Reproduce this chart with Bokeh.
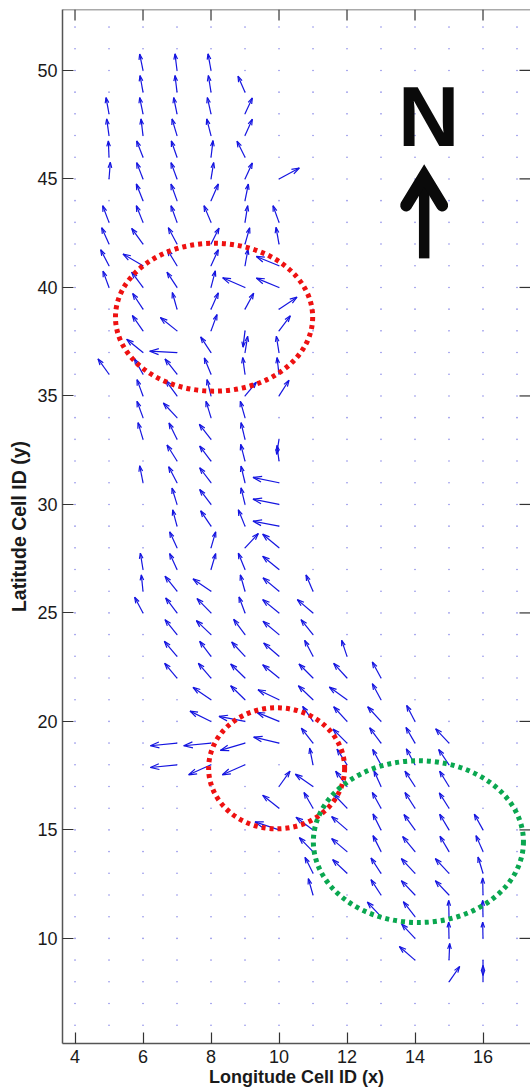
from bokeh.embed import file_html
from bokeh.resources import INLINE
from bokeh.plotting import figure
from bokeh.models import FixedTicker, Range1d
from bokeh.core.properties import value

# quiver field, one set of lists per longitude column: row y and raw components u, v
y_x5 = [48,47,46,45,43,42,41,40,36]
u_x5 = [-9,-7,-2,4,-19,-22,-25,-18,-33]
v_x5 = [49,50,49,50,50,49,48,49,46]

y_x6 = [50,49,48,47,46,45,44,43,42,41,40,39,38,37,36,35,34,33,31,27,26,25]
u_x6 = [-10,-9,-10,-6,-19,-19,-20,-20,-34,-60,-34,-31,-32,-49,-26,-18,-18,-15,-10,-8,-5,-25]
v_x6 = [49,50,49,50,49,49,50,50,47,35,46,47,46,40,47,49,49,50,51,49,49,47]

y_x7 = [50,49,48,47,46,45,44,43,42,41,40,39,38,37,36,35,34,33,32,31,30,29,28,27,26,25,24,23,22,19,18]
u_x7 = [-6,-6,-10,-15,-17,-18,-18,-18,-26,-29,-30,-14,-50,-82,-36,-34,-41,-24,-30,-25,-15,-13,-22,-22,-36,-34,-36,-38,-37,-80,-80]
v_x7 = [50,50,49,50,49,49,50,50,49,48,46,50,40,4,46,47,44,49,48,48,49,49,48,48,45,45,45,45,44,-8,-8]

y_x8 = [50,49,48,47,46,45,44,43,42,41,40,39,38,37,36,35,34,33,32,31,30,29,28,27,26,25,24,23,22,21,20,19,18]
u_x8 = [-9,-8,-11,-13,6,8,22,-21,24,22,13,22,18,-31,-20,-12,-15,-35,-34,-34,-34,-31,14,14,-54,-42,-44,-34,-38,-54,-63,-82,-67]
v_x8 = [50,50,49,50,50,49,50,50,48,48,50,49,49,47,49,49,49,45,45,45,45,46,48,48,37,43,42,45,44,37,31,-8,-30]

y_x9 = [49,48,47,46,45,44,43,42,41,40,39,38,37,36,35,34,33,32,31,30,29,28,27,26,25,24,23,22,21,20,19,18]
u_x9 = [-21,22,22,-24,22,10,8,14,9,-67,26,-6,8,-7,34,-14,-12,-13,-12,-12,-20,40,-20,-14,-18,-34,-40,-43,-43,-78,-74,-68]
v_x9 = [48,48,49,48,48,50,50,49,50,29,48,-49,49,50,41,49,50,50,50,50,49,43,49,49,48,46,43,42,42,15,-22,-30]

y_x10 = [45,43,42,41,40,39,38,37,36,35,33,32,31,30,29,28,27,26,25,24,23,22,21,20,19,17,16,15]
u_x10 = [61,-18,-9,-68,-68,54,34,-8,-6,30,-7,-6,-78,-78,-78,-49,-49,-48,-49,-48,-46,-49,-63,-66,-76,33,-49,-72]
v_x10 = [33,50,50,28,28,36,45,49,50,47,-45,47,16,16,15,41,40,40,40,40,40,40,30,27,18,46,39,24]

y_x11 = [26,25,24,23,22,21,20,19,18,17,16,15,14,13,12]
u_x11 = [-21,-47,-36,-25,-42,-44,-31,-35,-10,-53,-27,-51,-41,-24,-14]
v_x11 = [49,40,45,48,42,42,45,45,50,37,47,38,42,48,49]

y_x12 = [23,22,21,20,19,18,17,16,15,14,13]
u_x12 = [-16,-40,-53,-40,-42,-30,-34,-40,-46,-46,-43]
v_x12 = [48,44,38,44,42,47,46,42,40,39,41]

y_x13 = [22,21,20,19,18,17,16,15,14,13,12,11]
u_x13 = [-26,-26,-40,-34,-25,-21,-26,-24,-24,-30,-30,-41]
v_x13 = [48,48,44,46,46,47,47,48,48,46,46,44]

y_x14 = [20,19,18,17,16,15,14,13,12,11,10,9]
u_x14 = [-25,-27,-26,-30,-30,-33,-37,-41,-41,-35,-40,-47]
v_x14 = [48,47,48,46,47,46,45,44,43,45,43,41]

y_x15 = [19,18,17,16,15,14,13,12,11,10,9,8]
u_x15 = [-40,-31,-28,-29,-28,-27,-41,-41,-1,-1,2,32]
v_x15 = [43,46,46,46,47,46,44,43,49,49,50,46]

y_x16 = [15,14,13,12,11,10,9,8]
u_x16 = [-26,-21,-15,-1,-1,-1,0,0]
v_x16 = [47,48,49,51,49,49,-46,49]

COLUMNS = {5:(y_x5,u_x5,v_x5), 6:(y_x6,u_x6,v_x6), 7:(y_x7,u_x7,v_x7), 8:(y_x8,u_x8,v_x8),
           9:(y_x9,u_x9,v_x9), 10:(y_x10,u_x10,v_x10), 11:(y_x11,u_x11,v_x11), 12:(y_x12,u_x12,v_x12),
           13:(y_x13,u_x13,v_x13), 14:(y_x14,u_x14,v_x14), 15:(y_x15,u_x15,v_x15), 16:(y_x16,u_x16,v_x16)}

grid_x = list(range(4, 18))
grid_y = list(range(6, 53))
x_ticks = [4,6,8,10,12,14,16]
y_ticks = [10,15,20,25,30,35,40,45,50]

# marked regions
red_cx = [8.09, 9.93]
red_cy = [38.63, 17.84]
red_w = [5.8, 4.0]
red_h = [6.82, 5.58]
green_cx = [14.1]
green_cy = [14.46]
green_w = [6.18]
green_h = [7.46]

W, H = 530, 1089
ML, MR, MT, MB = 62, 0, 9, 45
XR = (3.632, 17.397)
YR = (5.156, 52.81)
sx = (W-ML-MR)/(XR[1]-XR[0])
sy = (H-MT-MB)/(YR[1]-YR[0])
Q_U, Q_V = 1/102, 1/65.16   # quiver scale of raw components
TICK = 11

p = figure(width=W, height=H, output_backend="svg", toolbar_location=None,
           x_range=Range1d(*XR), y_range=Range1d(*YR),
           min_border_left=ML, min_border_right=MR, min_border_top=MT, min_border_bottom=MB)
p.background_fill_color = "white"
p.grid.visible = False
p.outline_line_color = None

AX = "#555555"
TK = "#333333"
TXT = "#1a1a1a"
def style(a, ticks):
    a.ticker = FixedTicker(ticks=ticks)
    a.axis_line_color = AX
    a.axis_line_width = 1.5
    a.major_tick_line_color = TK
    a.major_tick_line_width = 1.2
    a.major_tick_in = TICK
    a.major_tick_out = 0
    a.minor_tick_line_color = None
    a.major_label_text_color = TXT
    a.major_label_text_font = "Liberation Sans"
    a.major_label_text_font_size = "18px"
    a.major_label_standoff = 5

style(p.xaxis[0], x_ticks)
style(p.yaxis[0], y_ticks)
p.xaxis[0].major_label_standoff = 6
p.xaxis[0].axis_label = "Longitude Cell ID (x)"
p.yaxis[0].axis_label = "Latitude Cell ID (y)"
for a in (p.xaxis[0], p.yaxis[0]):
    a.axis_label_text_font = "Liberation Sans"
    a.axis_label_text_font_style = "bold"
    a.axis_label_text_color = TXT
p.xaxis[0].axis_label_text_font_size = "18px"
p.yaxis[0].axis_label_text_font_size = "19.5px"
p.xaxis[0].axis_label_standoff = 1
p.yaxis[0].axis_label_standoff = 4

# top edge and the inward ticks of the top and right sides
p.segment([XR[0]], [YR[1]], [XR[1]], [YR[1]], line_color=AX, line_width=1.5)
p.segment(x_ticks, [YR[1]]*len(x_ticks), x_ticks, [YR[1]-TICK/sy]*len(x_ticks), line_color=TK, line_width=1.2)
p.segment([XR[1]]*len(y_ticks), y_ticks, [XR[1]-TICK/sx]*len(y_ticks), y_ticks, line_color=TK, line_width=1.2)

# zero-length grid markers
gx = [x for x in grid_x for _ in grid_y]
gy = [y for _ in grid_x for y in grid_y]
p.scatter(gx, gy, size=1.6, color="#8a8ae8", line_color=None, marker="circle")

# arrows
xs, ys = [], []
for cx, (cy, cu, cv) in COLUMNS.items():
    for y0, u, v in zip(cy, cu, cv):
        dx = u*Q_U*sx; dy = v*Q_V*sy
        tip = (cx + u*Q_U, y0 + v*Q_V)
        a, b = 0.33, 0.33
        l = (tip[0] - a*(dx - b*dy)/sx, tip[1] - a*(dy + b*dx)/sy)
        r = (tip[0] - a*(dx + b*dy)/sx, tip[1] - a*(dy - b*dx)/sy)
        xs.append([cx, tip[0]]); ys.append([y0, tip[1]])
        xs.append([l[0], tip[0], r[0]]); ys.append([l[1], tip[1], r[1]])
p.multi_line(xs, ys, line_color="#1414e0", line_width=1.2)

# circled regions
p.ellipse(red_cx, red_cy, width=red_w, height=red_h, fill_color=None,
          line_color="#ee1111", line_width=5, line_dash="4 4")
p.ellipse(green_cx, green_cy, width=green_w, height=green_h, fill_color=None,
          line_color="#0aa750", line_width=5, line_dash="4 4")

# north marker
p.text([14.4], [47.9], text=["N"], text_font=value("Liberation Sans"), text_font_style="bold",
       text_font_size="85px", text_align="center", text_baseline="alphabetic", text_color="#0a0a0a")
p.line([14.27, 14.27], [41.34, 45.0], line_color="#0a0a0a", line_width=10.5)
p.line([13.74, 14.27, 14.80], [43.78, 45.15, 43.78], line_color="#0a0a0a", line_width=12,
       line_cap="round", line_join="miter")

open("out.html", "w").write(file_html(p, INLINE))
